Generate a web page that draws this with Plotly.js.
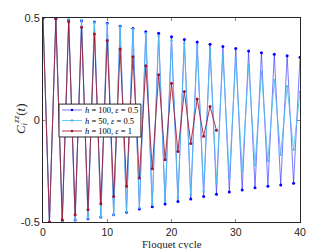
<!DOCTYPE html>
<html>
<head>
<meta charset="utf-8">
<script src="https://cdn.plot.ly/plotly-3.0.1.min.js"></script>
<style>html,body{margin:0;padding:0;background:#fff;}#chart{width:332px;height:249px;}</style>
</head>
<body>
<div id="chart"></div>
<script>
// Floquet cycles
var cyclesLong = [0,1,2,3,4,5,6,7,8,9,10,11,12,13,14,15,16,17,18,19,20,21,22,23,24,25,26,27,28,29,30,31,32,33,34,35,36,37,38,39,40];
var cyclesShort = [0,1,2,3,4,5,6,7,8,9,10,11,12,13,14,15,16,17,18,19,20,21,22,23,24,25,26,27];

// h = 100, eps = 0.5
var h100e05 = [0.5,-0.5,0.495,-0.494,0.49,-0.49,0.487,-0.484,0.48,-0.476,0.474,-0.465,0.46,-0.452,0.448,-0.436,0.433,-0.425,0.425,-0.412,0.408,-0.40,0.395,-0.387,0.382,-0.375,0.371,-0.364,0.36,-0.353,0.35,-0.343,0.338,-0.332,0.33,-0.325,0.322,-0.319,0.315,-0.31,0.307];
// h = 50, eps = 0.5
var h50e05 = [0.5,-0.5,0.5,-0.497,0.495,-0.49,0.49,-0.482,0.478,-0.474,0.47,-0.465,0.457,-0.45,0.445,-0.43,0.425,-0.415,0.41,-0.40,0.39,-0.38,0.375,-0.365,0.36,-0.35,0.345,-0.31,0.32,-0.28,0.30,-0.25,0.27,-0.22,0.235,-0.20,0.195,-0.17,0.165,-0.146,0.136];
// h = 100, eps = 1
var h100e1 = [0.5,-0.5,0.497,-0.489,0.482,-0.465,0.455,-0.44,0.422,-0.41,0.39,-0.375,0.348,-0.325,0.31,-0.284,0.266,-0.239,0.222,-0.195,0.18,-0.154,0.14,-0.115,0.103,-0.08,0.066,-0.05];

var seriesNames = ['<i>h</i> = 100, <i>ε</i> = 0.5', '<i>h</i> = 50, <i>ε</i> = 0.5', '<i>h</i> = 100, <i>ε</i> = 1'];
var lineColors = ['rgba(50,50,255,0.65)', 'rgba(77,190,238,0.85)', 'rgba(162,20,47,0.85)'];
var markerColors = ['#0000ff', '#4dbeee', '#a2142f'];
var xTicks = [0,10,20,30,40];
var yTicks = [-0.5,0,0.5];
var yTickText = ['-0.5','0','0.5'];
var xTitle = 'Floquet cycle';
var yTitle = '<i>C</i><sub><i>i</i></sub><sup><i>zz</i></sup>(<i>t</i>)';

var xs = [cyclesLong, cyclesLong, cyclesShort];
var ys = [h100e05, h50e05, h100e1];
var traces = ys.map(function (y, i) {
  return {x: xs[i], y: y, name: seriesNames[i], type: 'scatter', mode: 'lines+markers',
    line: {color: lineColors[i], width: 1}, marker: {color: markerColors[i], size: i === 1 ? 2.5 : 3}};
});

// compact legend box (paper coordinates)
var legBox = {x0: 0.0623, x1: 0.381, y0: 0.4167, y1: 0.578};
var legRows = [0.549, 0.4975, 0.446];
var legLineX = [0.0739, 0.1518], legDotX = 0.1128, legTextX = 0.1556;
var shapes = [{type: 'rect', xref: 'paper', yref: 'paper', x0: legBox.x0, x1: legBox.x1, y0: legBox.y0, y1: legBox.y1,
  fillcolor: '#fff', line: {color: '#262626', width: 1}, layer: 'above'}];
var titleFont = {family: 'Liberation Serif, DejaVu Serif, serif', size: 13, color: '#262626'};
var annotations = [
  {xref: 'paper', yref: 'paper', x: -0.089, y: 0.505, xanchor: 'center', yanchor: 'middle',
   textangle: -90, text: yTitle, showarrow: false, font: titleFont},
  {xref: 'paper', yref: 'paper', x: 0.5, y: -0.142, xanchor: 'center', yanchor: 'bottom', borderpad: 0,
   text: xTitle, showarrow: false, font: {family: titleFont.family, size: 11, color: '#262626'}}
];
legRows.forEach(function (ry, i) {
  shapes.push({type: 'line', xref: 'paper', yref: 'paper', x0: legLineX[0], x1: legLineX[1], y0: ry, y1: ry,
    line: {color: lineColors[i], width: 1}, layer: 'above'});
  shapes.push({type: 'circle', xref: 'paper', yref: 'paper', xsizemode: 'pixel', ysizemode: 'pixel',
    xanchor: legDotX, yanchor: ry, x0: -1.3, x1: 1.3, y0: -1.3, y1: 1.3,
    fillcolor: markerColors[i], line: {width: 0}, layer: 'above'});
  annotations.push({xref: 'paper', yref: 'paper', x: legTextX, y: ry, xanchor: 'left', yanchor: 'middle',
    text: seriesNames[i], showarrow: false,
    font: {family: 'Liberation Serif, DejaVu Serif, serif', size: 8.5, color: '#000'}});
});

var layout = {
  width: 332, height: 249,
  margin: {l: 43, r: 32, t: 18, b: 27},
  paper_bgcolor: '#fff', plot_bgcolor: '#fff',
  showlegend: false,
  font: {family: 'Liberation Sans, Arial, sans-serif', size: 11, color: '#262626'},
  xaxis: {
    range: [0, 40], tickvals: xTicks, ticktext: xTicks.map(String),
    ticks: 'inside', ticklen: 3, tickcolor: '#888', showline: true, linecolor: '#262626', linewidth: 1,
    mirror: 'ticks', showgrid: false, zeroline: false,
    tickfont: {family: 'Liberation Sans, Arial, sans-serif', size: 10.5, color: '#262626'}
  },
  yaxis: {
    range: [-0.5, 0.5], tickvals: yTicks, ticktext: yTickText,
    ticks: 'inside', ticklen: 3, tickcolor: '#888', showline: true, linecolor: '#262626', linewidth: 1,
    mirror: 'ticks', showgrid: false, zeroline: false,
    tickfont: {family: 'Liberation Sans, Arial, sans-serif', size: 11, color: '#262626'}
  },
  shapes: shapes,
  annotations: annotations
};

Plotly.newPlot('chart', traces, layout, {displayModeBar: false, staticPlot: true});
</script>
</body>
</html>
